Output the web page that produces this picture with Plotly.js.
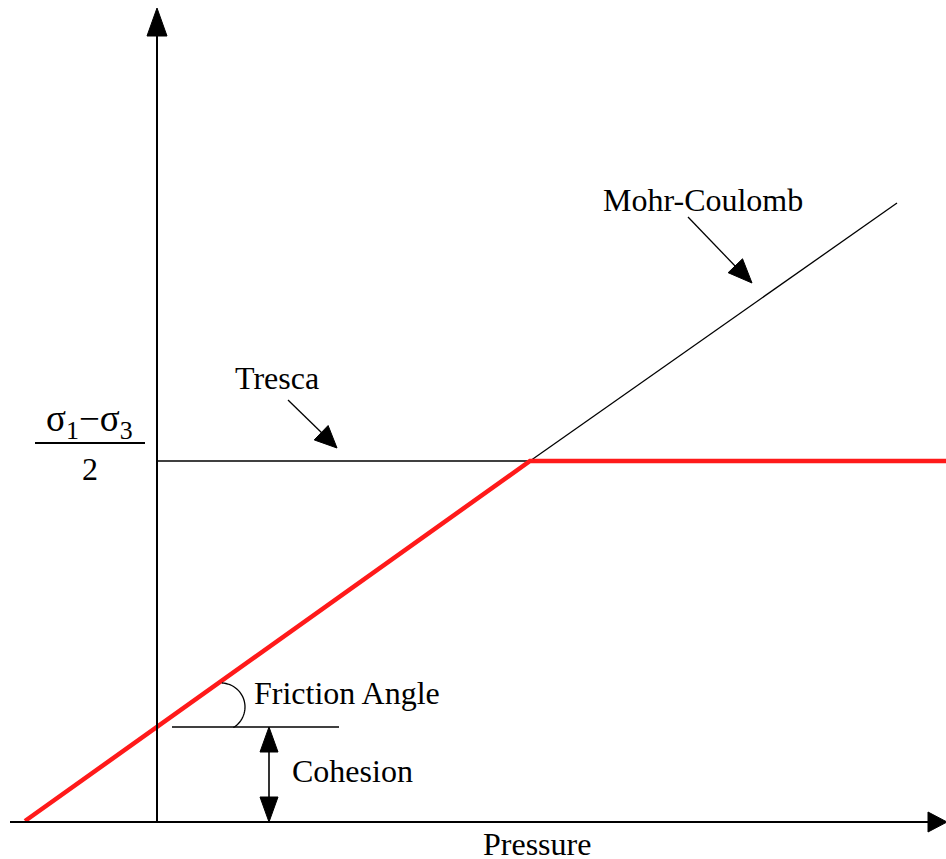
<!DOCTYPE html>
<html>
<head>
<meta charset="utf-8">
<script src="https://cdn.plot.ly/plotly-3.0.1.min.js"></script>
<style>html,body{margin:0;padding:0;background:#fff;}</style>
</head>
<body>
<div id="chart" style="width:946px;height:859px;"></div>
<script>
// Failure envelope (pressure, shear strength) in schematic units
const envelopeP = [-132, 373, 789];
const envelopeQ = [1, 361, 361];
// Mohr-Coulomb continuation
const mohrP = [373, 740];
const mohrQ = [361, 619];
// Tresca limit
const trescaP = [0, 373];
const trescaQ = [361, 361];
// Cohesion intercept
const cohesion = 95;
const frictionLineP = [15, 182];

const FONT = {family: 'Liberation Serif, Times New Roman, serif', size: 32, color: '#000'};

function arrowHead(tx, ty, angDeg, len, hw) {
  const a = angDeg * Math.PI / 180;
  const bx = tx - len * Math.cos(a), by = ty - len * Math.sin(a);
  const nx = -Math.sin(a), ny = Math.cos(a);
  return {type: 'path', xref: 'x', yref: 'y', fillcolor: '#000', line: {color: '#000', width: 1},
    path: `M${tx},${ty} L${bx + nx*hw},${by + ny*hw} L${bx - nx*hw},${by - ny*hw} Z`};
}
function seg(x0, y0, x1, y1, w, c) {
  return {type: 'line', xref: 'x', yref: 'y', x0, y0, x1, y1, line: {color: c || '#000', width: w}};
}
function arcPath(cx, cy, r, a0, a1) {
  let p = '';
  const n = 30;
  for (let i = 0; i <= n; i++) {
    const a = (a0 + (a1 - a0) * i / n) * Math.PI / 180;
    p += (i ? ' L' : 'M') + (cx + r * Math.cos(a)).toFixed(2) + ',' + (cy + r * Math.sin(a)).toFixed(2);
  }
  return {type: 'path', xref: 'x', yref: 'y', path: p, line: {color: '#000', width: 1.3}};
}

const traces = [
  {x: trescaP, y: trescaQ, mode: 'lines', line: {color: '#000', width: 1.3}, hoverinfo: 'skip'},
  {x: mohrP, y: mohrQ, mode: 'lines', line: {color: '#000', width: 1.3}, hoverinfo: 'skip'},
  {x: envelopeP, y: envelopeQ, mode: 'lines', line: {color: '#ff1a1a', width: 4.5}, hoverinfo: 'skip'}
];

const shapes = [
  // axes
  seg(0, 0, 0, 790, 2),
  arrowHead(0, 814, 90, 28, 10),
  seg(-147, 0, 771, 0, 2.2),
  arrowHead(790, 0, 0, 19, 10),
  // friction reference line
  seg(frictionLineP[0], cohesion, frictionLineP[1], cohesion, 1.3),
  arcPath(64, 115, 24, -59, 88),
  // cohesion double arrow
  seg(112, 20, 112, cohesion - 20, 1.6),
  arrowHead(112, cohesion, 90, 25, 9),
  arrowHead(112, 0, -90, 25, 9),
  // Tresca pointer
  seg(131, 422, 168, 386, 1.3),
  arrowHead(180, 374, -44, 22, 10),
  // Mohr-Coulomb pointer
  seg(531, 605, 580, 554, 1.3),
  arrowHead(595, 539, -46, 24, 10),
  // fraction bar
  seg(-122, 379, -12, 379, 2)
];

const annotations = [
  {x: 546, y: 622, text: 'Mohr-Coulomb'},
  {x: 120, y: 444, text: 'Tresca'},
  {x: 95, y: 129, text: 'Friction Angle', xanchor: 'left'},
  {x: 133, y: 51, text: 'Cohesion', xanchor: 'left'},
  {x: 380, y: -37, text: 'Pressure', yanchor: 'bottom', borderpad: 0, yshift: -4},
  {x: -68, y: 401, text: 'σ<sub>1</sub>−σ<sub>3</sub>', font: Object.assign({}, FONT, {size: 37})},
  {x: -67, y: 353, text: '2'}
].map(a => Object.assign({xref: 'x', yref: 'y', showarrow: false, xanchor: 'center', yanchor: 'middle', font: FONT}, a));

const layout = {
  width: 946, height: 859,
  margin: {l: 0, r: 0, t: 0, b: 0},
  paper_bgcolor: '#fff', plot_bgcolor: '#fff',
  showlegend: false,
  xaxis: {range: [-157, 789], visible: false, fixedrange: true},
  yaxis: {range: [-37, 822], visible: false, fixedrange: true},
  shapes, annotations
};

Plotly.newPlot('chart', traces, layout, {displayModeBar: false, staticPlot: true});
</script>
</body>
</html>
